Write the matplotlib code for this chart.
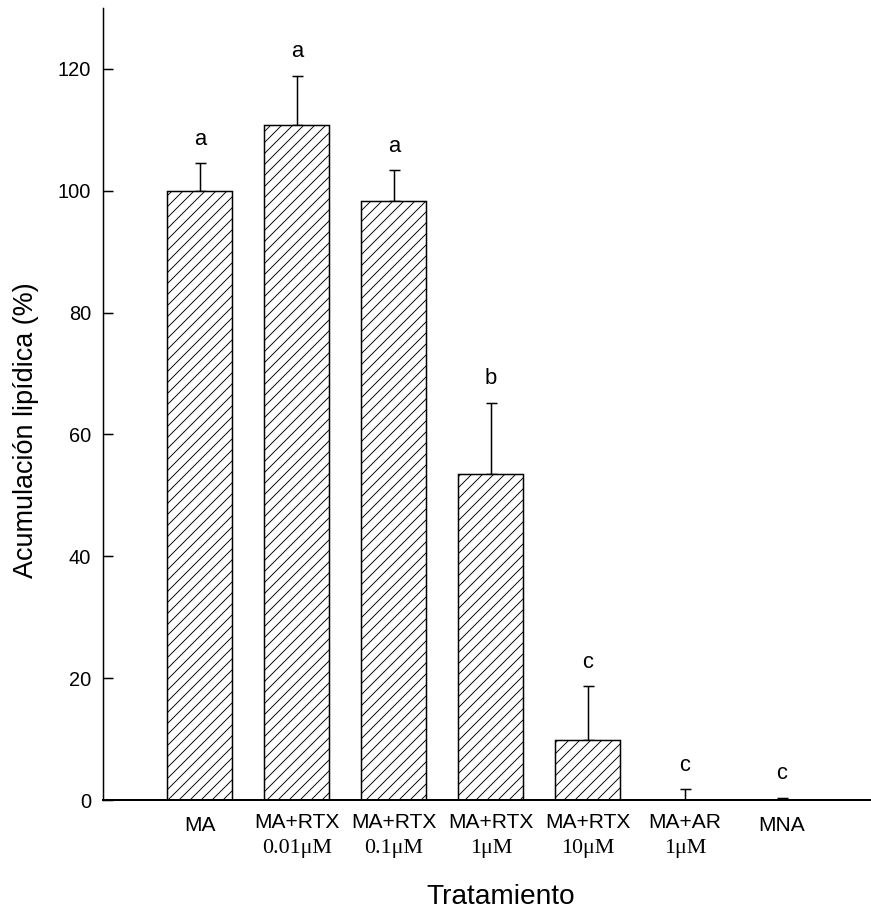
import matplotlib.pyplot as plt

# data
tratamientos = ['MA', 'MA+RTX', 'MA+RTX', 'MA+RTX', 'MA+RTX', 'MA+AR', 'MNA']
dosis = ['', '0.01\u03bcM', '0.1\u03bcM', '1\u03bcM', '10\u03bcM', '1\u03bcM', '']
acumulacion = [100.0, 110.8, 98.3, 53.5, 9.9, 0.0, 0.0]
error = [4.5, 8.1, 5.1, 11.7, 8.8, 1.8, 0.4]
letras = ['a', 'a', 'a', 'b', 'c', 'c', 'c']

DPI = 66
PT = 72.0 / DPI  # pixels -> points

plt.rcParams['font.family'] = ['Liberation Sans', 'DejaVu Sans']
plt.rcParams['hatch.linewidth'] = 1.0
plt.rcParams['hatch.color'] = 'black'

fig = plt.figure(figsize=(871 / DPI, 913 / DPI), dpi=DPI)
W, H = 871.0, 913.0
ax = fig.add_axes([103 / W, (H - 800) / H, (W - 103) / W, 792 / H])

x = list(range(len(acumulacion)))
ax.bar(x, acumulacion, width=0.67, color='white', edgecolor='black',
       linewidth=1.5 * PT, hatch='//', zorder=2)
ax.errorbar(x, acumulacion, yerr=[[0] * len(error), error], fmt='none',
            ecolor='black', elinewidth=1.5 * PT, capsize=5.5 * PT,
            capthick=1.5 * PT, zorder=1)

for xi, v, e, l in zip(x, acumulacion, error, letras):
    ax.annotate(l, (xi, v + e), xytext=(0, 24 * PT), textcoords='offset points',
                ha='center', va='center', fontsize=22 * PT)

ax.set_xlim(-1.0, 6.92)
ax.set_ylim(0, 130)
ax.set_yticks([0, 20, 40, 60, 80, 100, 120])
ax.tick_params(axis='y', direction='in', length=10 * PT, width=1.5 * PT,
               pad=12 * PT, labelsize=20 * PT)
ax.tick_params(axis='x', length=0, labelbottom=False)
ax.spines['top'].set_visible(False)
ax.spines['right'].set_visible(False)
ax.spines['left'].set_linewidth(1.5 * PT)
ax.spines['bottom'].set_linewidth(2 * PT)

# two-line category labels: treatment in sans, dose in serif
for xi, t, d in zip(x, tratamientos, dosis):
    if d:
        ax.annotate(t, (xi, 0), xycoords=('data', 'axes fraction'),
                    xytext=(0, -28 * PT), textcoords='offset points',
                    ha='center', va='baseline', fontsize=21 * PT)
        ax.annotate(d, (xi, 0), xycoords=('data', 'axes fraction'),
                    xytext=(0, -53 * PT), textcoords='offset points',
                    ha='center', va='baseline', fontsize=22 * PT,
                    family=['Liberation Serif', 'DejaVu Serif'])
    else:
        ax.annotate(t, (xi, 0), xycoords=('data', 'axes fraction'),
                    xytext=(0, -31 * PT), textcoords='offset points',
                    ha='center', va='baseline', fontsize=21 * PT)

fig.text(26 / W, 1 - 430 / H, 'Acumulaci\u00f3n lip\u00eddica (%)', rotation=90,
         ha='center', va='center', fontsize=27 * PT)
fig.text(501 / W, 1 - 897 / H, 'Tratamiento', ha='center', va='center',
         fontsize=28 * PT)

fig.savefig('out.png', dpi=DPI)
